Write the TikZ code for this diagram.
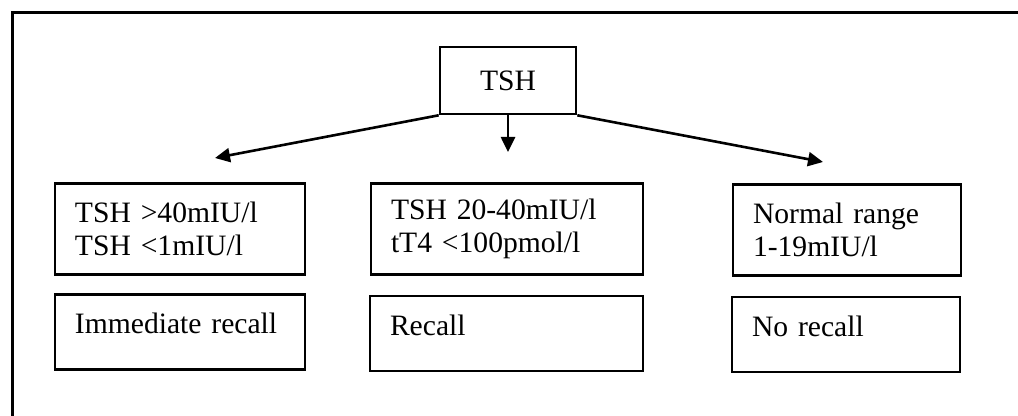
\documentclass[tikz,border=0pt]{standalone}
\usepackage{fontspec}
\setmainfont{Liberation Serif}
\usetikzlibrary{arrows.meta, positioning}
\tikzset{
  testbox/.style={draw, line width=1.3pt, fill=white, align=left, inner xsep=10pt, inner ysep=0pt, font=\fontsize{14.8}{16.5}\selectfont},
  levelbox/.style={testbox, minimum height=45.5pt},
  actionbox/.style={testbox, minimum height=37.5pt, text height=10pt, text depth=8pt},
  branch/.style={line width=1.3pt, -{Triangle[length=7.5pt,width=7pt]}}
}

\begin{document}
\begin{tikzpicture}[x=0.5pt, y=-0.5pt]
        \useasboundingbox (0,0) rectangle (1018,416);
        \coordinate (frame-bl) at (12,416);
        \coordinate (frame-tl) at (12,13);
        \coordinate (frame-tr) at (1018,13);
        \draw[line width=1.5pt] (frame-bl) -- (frame-tl) -- (frame-tr);

        \node[testbox, align=center, minimum width=68pt, minimum height=33.5pt] (tsh) at (508,80.5) {TSH};

        \node[levelbox, text width=105pt] (high) at (180,229) {TSH >40mIU/l\\TSH <1mIU/l};
        \node[levelbox, text width=116pt] (mid) at (507,229) {TSH 20-40mIU/l\\tT4 <100pmol/l};
        \node[levelbox, text width=94pt] (normal) at (847,230) {Normal range\\1-19mIU/l};

        \node[actionbox, text width=105pt] (immediate) at (180,332) {Immediate recall};
        \node[actionbox, text width=116.5pt] (recall) at (506.5,333.5) {Recall};
        \node[actionbox, text width=94pt] (norecall) at (846,334.5) {No recall};

        \coordinate (high-tip) at (215,158);
        \coordinate (mid-tip) at (508,152);
        \coordinate (normal-tip) at (823,162);
        \draw[branch] (tsh.south west) -- (high-tip);
        \draw[branch] (tsh.south) -- (mid-tip);
        \draw[branch] (tsh.south east) -- (normal-tip);
      \end{tikzpicture}
\end{document}
